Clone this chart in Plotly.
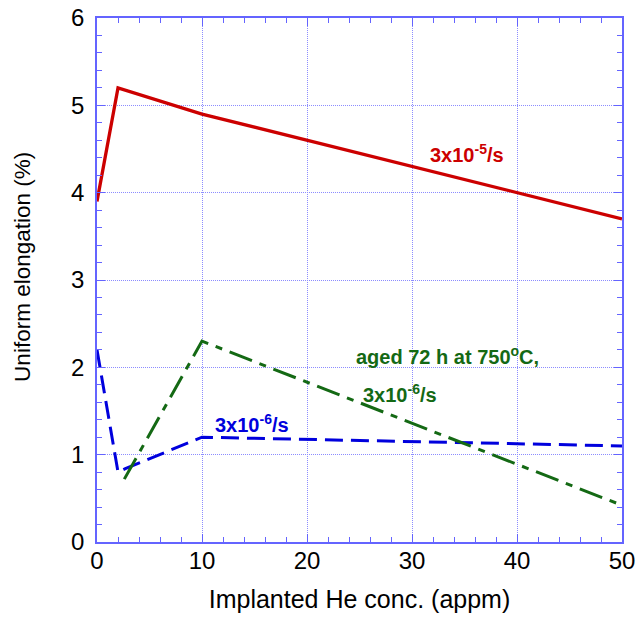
import plotly.graph_objects as go

# He concentration (appm) vs uniform elongation (%)
he_fast = [0, 2, 10, 50]
elong_fast = [3.9, 5.2, 4.9, 3.7]

he_slow = [0, 2, 2.7, 10, 50]
elong_slow = [2.2, 0.8, 0.84, 1.2, 1.1]

he_aged = [2.6, 10, 50]
elong_aged = [0.72, 2.3, 0.42]

red = "#cc0000"
blue = "#0000dd"
green = "#146914"
font = "Liberation Sans"
axcol = "rgb(100,100,255)"

fig = go.Figure()

fig.add_trace(go.Scatter(x=he_fast, y=elong_fast, mode="lines",
                         line=dict(color=red, width=3.3), showlegend=False))
fig.add_trace(go.Scatter(x=he_slow, y=elong_slow, mode="lines",
                         line=dict(color=blue, width=3, dash="18px,8px"), showlegend=False))
fig.add_trace(go.Scatter(x=he_aged, y=elong_aged, mode="lines",
                         line=dict(color=green, width=3, dash="24px,8px,7px,8px"),
                         showlegend=False))

labels = [
    (35.2, 4.45, "3x10<sup>-5</sup>/s", red),
    (33.4, 2.13, "aged 72 h at 750<sup>o</sup>C,", green),
    (28.9, 1.70, "3x10<sup>-6</sup>/s", green),
    (14.8, 1.36, "3x10<sup>-6</sup>/s", blue),
]
for x, y, txt, c in labels:
    fig.add_annotation(x=x, y=y, text=f"<b>{txt}</b>", showarrow=False,
                       font=dict(family=font, size=20, color=c))

# y title as an annotation: it sits a little above the plot centre in the original
fig.add_annotation(x=-0.141, y=0.525, xref="paper", yref="paper",
                   xanchor="center", yanchor="middle",
                   text="Uniform elongation (%)", textangle=-90, showarrow=False,
                   font=dict(family=font, size=22.5, color="black"))

axis_common = dict(
    showgrid=True, gridcolor="rgb(140,140,255)", gridwidth=1, griddash="1px,1px",
    showline=True, linecolor=axcol, linewidth=1.8, mirror="ticks",
    ticks="inside", ticklen=8, tickcolor=axcol,
    zeroline=False, automargin=False,
    tickfont=dict(family=font, size=24, color="black"),
)

fig.update_xaxes(range=[0, 50], dtick=10, title_text="Implanted He conc. (appm)",
                 title_font=dict(family=font, size=25, color="black"),
                 minor=dict(dtick=2, ticks="inside", ticklen=5,
                            tickcolor=axcol, showgrid=False),
                 ticklabelstandoff=-4, title_standoff=18, **axis_common)
fig.update_yaxes(range=[0, 6], dtick=1,
                 minor=dict(dtick=0.2, ticks="inside", ticklen=5,
                            tickcolor=axcol, showgrid=False),
                 ticklabelstandoff=6, **axis_common)

fig.update_layout(
    width=638, height=619,
    margin=dict(l=97, r=16, t=18, b=77),
    plot_bgcolor="white", paper_bgcolor="white",
)

# drop the default body margin so the figure fills the window
fig.write_html("out.html", config={"displayModeBar": False},
               post_script="document.body.style.margin='0';")
